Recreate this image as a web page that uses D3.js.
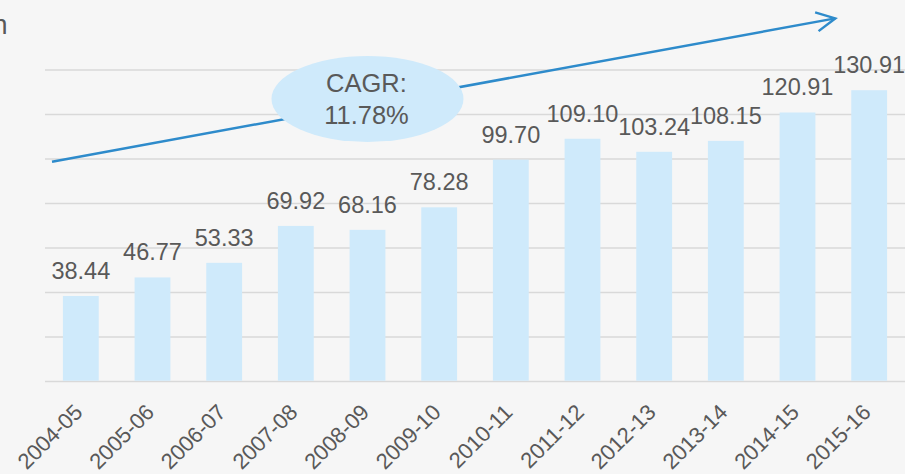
<!DOCTYPE html>
<html>
<head>
<meta charset="utf-8">
<script src="https://cdn.jsdelivr.net/npm/d3@7"></script>
<style>
  body { margin: 0; background: #f6f6f6; }
  svg { display: block; font-family: "Liberation Sans", Arial, sans-serif; }
</style>
</head>
<body>
<script>
var years = ['2004-05','2005-06','2006-07','2007-08','2008-09','2009-10',
             '2010-11','2011-12','2012-13','2013-14','2014-15','2015-16'];
var values = [38.44, 46.77, 53.33, 69.92, 68.16, 78.28,
              99.70, 109.10, 103.24, 108.15, 120.91, 130.91];
var yTicks = [0, 20, 40, 60, 80, 100, 120, 140];
var cagrText = ['CAGR:', '11.78%'];
// trend arrow start / end level (in chart units)
var trendLevels = [98.8, 163.2];

var svgWidth = 905;
var svgHeight = 474;
var textColor = '#595959';
var barColor = '#cfeafb';
var lineColor = '#2e8bcb';

var svg = d3.select("body")
  .append("svg")
  .attr("width", svgWidth)
  .attr("height", svgHeight);

svg.append("rect")
  .attr("width", svgWidth)
  .attr("height", svgHeight)
  .attr("fill", "#f6f6f6");

var x = d3.scaleBand()
  .domain(years)
  .range([45, 905])
  .paddingInner(0.5)
  .paddingOuter(0.25);

var y = d3.scaleLinear()
  .domain([0, 140])
  .range([381.5, 70]);

// cut-off title at top left
svg.append("text")
  .attr("x", 7.5)
  .attr("y", 34.3)
  .attr("text-anchor", "end")
  .attr("font-size", "27px")
  .attr("fill", textColor)
  .text("USD billion");

// gridlines
svg.append("g")
  .selectAll("line")
  .data(yTicks)
  .enter()
  .append("line")
    .attr("x1", x.range()[0])
    .attr("x2", x.range()[1])
    .attr("y1", function(d) { return y(d); })
    .attr("y2", function(d) { return y(d); })
    .attr("stroke", "#d9d9d9")
    .attr("stroke-width", 1.5);

// bars
svg.append("g")
  .selectAll("rect")
  .data(values)
  .enter()
  .append("rect")
    .attr("x", function(d, i) { return x(years[i]); })
    .attr("y", function(d) { return y(d); })
    .attr("width", x.bandwidth())
    .attr("height", function(d) { return y(0) - y(d) - 0.75; })
    .attr("fill", barColor);

// value labels
svg.append("g")
  .selectAll("text")
  .data(values)
  .enter()
  .append("text")
    .attr("x", function(d, i) { return x(years[i]) + x.bandwidth() / 2; })
    .attr("y", function(d) { return y(d) - 17; })
    .attr("text-anchor", "middle")
    .attr("font-size", "23.5px")
    .attr("fill", textColor)
    .text(function(d) { return d.toFixed(2); });

// x axis
var xAxis = svg.append("g")
  .attr("transform", "translate(0," + y(0) + ")")
  .call(d3.axisBottom(x).tickSize(0));
xAxis.select(".domain").remove();
xAxis.selectAll("text")
  .attr("x", 0)
  .attr("y", 0)
  .attr("dy", 0)
  .attr("transform", "translate(3,32) rotate(-45)")
  .attr("text-anchor", "end")
  .attr("font-size", "22px")
  .attr("font-family", "Liberation Sans, Arial, sans-serif")
  .attr("fill", textColor);

// trend arrow
var x0 = x.range()[0] + 7;
var y0 = y(trendLevels[0]);
var x1 = x(years[years.length - 1]) - 16;
var y1 = y(trendLevels[1]);
var ang = Math.atan2(y1 - y0, x1 - x0);
var back = ang + Math.PI;
var wing = 21, spread = 27 * Math.PI / 180;

svg.append("line")
  .attr("x1", x0).attr("y1", y0)
  .attr("x2", x1).attr("y2", y1)
  .attr("stroke", lineColor)
  .attr("stroke-width", 2.5);

svg.append("path")
  .attr("d", d3.line()([
    [x1 + wing * Math.cos(back - spread), y1 + wing * Math.sin(back - spread)],
    [x1, y1],
    [x1 + wing * Math.cos(back + spread), y1 + wing * Math.sin(back + spread)]
  ]))
  .attr("fill", "none")
  .attr("stroke", lineColor)
  .attr("stroke-width", 2.5)
  .attr("stroke-linejoin", "miter");

// CAGR bubble
var cx = x('2008-09') + x.bandwidth() / 2;
var cy = y(127);
svg.append("ellipse")
  .attr("cx", cx)
  .attr("cy", cy)
  .attr("rx", 96)
  .attr("ry", 43)
  .attr("fill", barColor);

svg.append("g")
  .selectAll("text")
  .data(cagrText)
  .enter()
  .append("text")
    .attr("x", cx - 1)
    .attr("y", function(d, i) { return cy - 6.5 + i * 31.3; })
    .attr("text-anchor", "middle")
    .attr("font-size", "25.5px")
    .attr("fill", textColor)
    .text(function(d) { return d; });
</script>
</body>
</html>
